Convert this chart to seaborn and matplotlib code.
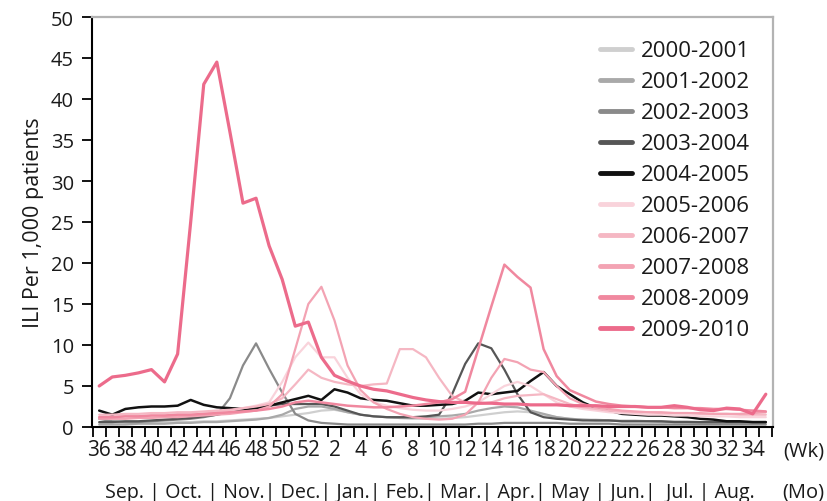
import numpy as np
import pandas as pd
import matplotlib
matplotlib.use("Agg")
import matplotlib.pyplot as plt
import seaborn as sns
from matplotlib.lines import Line2D

# ---------------- data ----------------
seasons = ["2000-2001", "2001-2002", "2002-2003", "2003-2004", "2004-2005",
           "2005-2006", "2006-2007", "2007-2008", "2008-2009", "2009-2010"]

weeks = list(range(36, 53)) + list(range(1, 36))  # 52 surveillance weeks
week_labels = ["36", "38", "40", "42", "44", "46", "48", "50", "52", "2", "4", "6", "8",
               "10", "12", "14", "16", "18", "20", "22", "22", "26", "28", "30", "32", "34"]
month_text = "Sep. | Oct. | Nov.| Dec.| Jan.| Feb.| Mar.| Apr.| May | Jun.|  Jul. | Aug."

s2000_2001 = [0.5, 0.4, 0.4, 0.5, 0.5, 0.5, 0.6, 0.6, 0.7, 0.7, 0.8, 0.9, 1.0,
              1.1, 1.3, 1.5, 1.7, 2.0, 2.1, 1.8, 1.5, 1.3, 1.2, 1.1, 1.0, 1.0,
              1.0, 1.1, 1.2, 1.4, 1.6, 1.8, 1.9, 1.8, 1.5, 1.2, 1.0, 0.9, 0.9,
              0.8, 0.8, 0.8, 0.7, 0.7, 0.7, 0.7, 0.6, 0.6, 0.6, 0.6, 0.6, 0.6]
s2001_2002 = [0.3, 0.3, 0.3, 0.4, 0.4, 0.4, 0.5, 0.5, 0.6, 0.6, 0.7, 0.8, 0.9,
              1.1, 1.5, 2.2, 2.5, 2.5, 2.2, 1.8, 1.5, 1.3, 1.2, 1.1, 1.1, 1.2,
              1.3, 1.4, 1.6, 2.0, 2.3, 2.5, 2.4, 2.0, 1.6, 1.2, 1.0, 0.9, 0.8,
              0.8, 0.7, 0.7, 0.7, 0.6, 0.6, 0.6, 0.5, 0.5, 0.5, 0.5, 0.5, 0.5]
s2002_2003 = [1.0, 0.7, 0.6, 0.6, 0.7, 0.8, 0.9, 1.0, 1.2, 1.5, 3.5, 7.5, 10.2,
              7.1, 4.2, 1.6, 0.8, 0.5, 0.4, 0.3, 0.3, 0.3, 0.3, 0.3, 0.3, 0.3,
              0.3, 0.3, 0.3, 0.4, 0.4, 0.5, 0.5, 0.5, 0.5, 0.5, 0.4, 0.4, 0.4,
              0.4, 0.3, 0.3, 0.3, 0.3, 0.3, 0.3, 0.3, 0.3, 0.3, 0.3, 0.3, 0.3]
s2003_2004 = [0.6, 0.6, 0.7, 0.7, 0.8, 0.9, 1.0, 1.1, 1.3, 1.5, 1.8, 2.1, 2.4,
              2.6, 2.8, 2.8, 2.8, 2.8, 2.5, 2.0, 1.5, 1.3, 1.2, 1.2, 1.2, 1.3,
              1.5, 4.0, 7.7, 10.2, 9.6, 7.0, 4.0, 1.8, 1.2, 1.0, 0.9, 0.8, 0.8,
              0.8, 0.7, 0.7, 0.7, 0.7, 0.6, 0.6, 0.6, 0.6, 0.6, 0.6, 0.6, 0.6]
s2004_2005 = [2.0, 1.5, 2.2, 2.4, 2.5, 2.5, 2.6, 3.3, 2.7, 2.4, 2.3, 2.2, 2.3,
              2.6, 3.0, 3.4, 3.8, 3.3, 4.6, 4.2, 3.5, 3.3, 3.2, 2.9, 2.6, 2.6,
              2.7, 2.8, 3.2, 4.2, 4.0, 4.2, 4.4, 5.6, 6.7, 5.0, 4.0, 3.0, 2.3,
              2.0, 1.6, 1.5, 1.4, 1.4, 1.3, 1.2, 1.0, 0.9, 0.7, 0.7, 0.6, 0.6]
s2005_2006 = [1.2, 1.2, 1.3, 1.3, 1.4, 1.4, 1.5, 1.5, 1.6, 1.8, 2.0, 2.3, 2.6,
              3.0, 5.5, 8.5, 10.3, 8.5, 8.5, 6.0, 4.0, 3.0, 2.6, 2.3, 2.1, 2.0,
              2.0, 2.2, 2.5, 3.0, 4.0, 5.0, 5.5, 5.0, 4.0, 3.0, 2.5, 2.2, 2.0,
              1.8, 1.7, 1.6, 1.5, 1.5, 1.4, 1.4, 1.3, 1.3, 1.3, 1.2, 1.2, 1.2]
s2006_2007 = [1.5, 1.5, 1.6, 1.6, 1.7, 1.7, 1.8, 1.8, 1.9, 2.0, 2.1, 2.3, 2.5,
              2.8, 3.5, 5.2, 7.0, 6.0, 5.5, 5.2, 5.0, 5.2, 5.3, 9.5, 9.5, 8.5,
              6.0, 3.8, 3.0, 2.8, 3.0, 3.5, 3.8, 3.9, 4.0, 3.4, 2.8, 2.4, 2.2,
              2.0, 1.9, 1.8, 1.8, 1.7, 1.7, 1.7, 1.6, 1.6, 1.6, 1.5, 1.5, 1.5]
s2007_2008 = [1.0, 1.0, 1.0, 1.1, 1.1, 1.2, 1.2, 1.3, 1.4, 1.5, 1.6, 1.8, 2.0,
              2.5, 4.0, 9.5, 15.0, 17.1, 13.0, 7.5, 4.5, 3.0, 2.2, 1.6, 1.2, 1.0,
              0.9, 1.0, 1.5, 3.0, 6.0, 8.3, 7.9, 7.0, 6.7, 5.0, 3.5, 2.8, 2.4,
              2.2, 2.0, 1.9, 1.8, 1.8, 1.7, 1.7, 1.7, 1.6, 1.6, 1.6, 1.7, 1.8]
s2008_2009 = [1.2, 1.2, 1.3, 1.3, 1.4, 1.4, 1.5, 1.5, 1.6, 1.7, 1.8, 1.9, 2.0,
              2.2, 2.5, 3.0, 3.2, 3.0, 2.8, 2.6, 2.5, 2.4, 2.4, 2.5, 2.6, 2.8,
              3.0, 3.4, 4.3, 9.5, 14.7, 19.8, 18.3, 17.0, 9.5, 6.2, 4.5, 3.8, 3.1,
              2.8, 2.6, 2.5, 2.4, 2.4, 2.3, 2.3, 2.3, 2.2, 2.2, 2.1, 2.0, 1.9]
s2009_2010 = [5.0, 6.1, 6.3, 6.6, 7.0, 5.5, 8.9, 25.0, 41.8, 44.5, 36.0, 27.3, 27.9,
              22.1, 18.0, 12.3, 12.8, 8.5, 6.3, 5.6, 5.0, 4.6, 4.4, 4.0, 3.6, 3.3,
              3.1, 3.0, 3.0, 2.9, 2.9, 2.8, 2.8, 2.7, 2.7, 2.7, 2.6, 2.6, 2.6,
              2.5, 2.5, 2.5, 2.4, 2.4, 2.6, 2.4, 2.1, 2.0, 2.3, 2.2, 1.6, 4.0]

series = [s2000_2001, s2001_2002, s2002_2003, s2003_2004, s2004_2005,
          s2005_2006, s2006_2007, s2007_2008, s2008_2009, s2009_2010]

# ---------------- style ----------------
colors = ["#cfcfcf", "#a9a9a9", "#8a8a8a", "#565656", "#111111",
          "#f9d3db", "#f5b7c3", "#f3a3b3", "#f0889f", "#ec6b8b"]
widths = [1.6, 1.6, 1.6, 1.6, 1.8, 1.6, 1.6, 1.6, 1.8, 2.3]

sns.set_theme(style="white")
plt.rcParams["font.family"] = ["Open Sans", "DejaVu Sans"]

rows = []
for name, vals in zip(seasons, series):
    for i, (w, v) in enumerate(zip(weeks, vals)):
        rows.append({"season": name, "idx": i, "week": w, "value": v})
df = pd.DataFrame(rows)

fig = plt.figure(figsize=(8.27, 5.02), dpi=100)
ax = fig.add_axes([92 / 827, 1 - 428 / 502, (773 - 92) / 827, (428 - 18) / 502])

sns.lineplot(data=df, x="idx", y="value", hue="season", hue_order=seasons,
             palette=dict(zip(seasons, colors)), size="season", size_order=seasons,
             sizes=dict(zip(seasons, widths)), legend=False, sort=False, ax=ax)

ax.set_xlim(-0.55, 51.55)
ax.set_ylim(0, 50)
ax.set_xlabel("")
ax.set_ylabel("ILI Per 1,000 patients", fontsize=15.5, color="#1a1a1a", labelpad=5)

ax.set_xticks(list(range(0, 52, 2)))
ax.set_xticklabels(week_labels)
ax.set_xticks(np.arange(-0.5, 52, 1), minor=True)
ax.tick_params(axis="x", which="major", bottom=True, length=0, pad=9,
               labelsize=15, labelcolor="#1a1a1a")
ax.tick_params(axis="x", which="minor", bottom=True, length=7, width=1.3,
               direction="out", color="black")
ax.set_yticks(list(range(0, 51, 5)))
ax.tick_params(axis="y", left=True, length=7, width=1.3, direction="out",
               color="black", labelsize=14.5, labelcolor="#1a1a1a", pad=6)

for side in ["left", "bottom"]:
    ax.spines[side].set_color("black")
    ax.spines[side].set_linewidth(1.5)
for side in ["top", "right"]:
    ax.spines[side].set_color("#b3b3b3")
    ax.spines[side].set_linewidth(1.6)

handles = [Line2D([0], [0], color=c, lw=3.5) for c in colors]
ax.legend(handles, seasons, loc="upper left", bbox_to_anchor=(0.746, 0.943),
          frameon=False, fontsize=16, labelspacing=0.45, handlelength=1.45,
          handletextpad=0.4, borderpad=0, borderaxespad=0,
          labelcolor="#1a1a1a")

fig.text(824 / 827, 1 - 452 / 502, "(Wk)", ha="right", va="center",
         fontsize=14.5, color="#1a1a1a")
fig.text(105 / 827, 1 - 493 / 502, month_text, ha="left", va="center",
         fontsize=14.1, color="#1a1a1a")
fig.text(824 / 827, 1 - 493 / 502, "(Mo)", ha="right", va="center",
         fontsize=14.5, color="#1a1a1a")

fig.savefig("out.png", dpi=100)
